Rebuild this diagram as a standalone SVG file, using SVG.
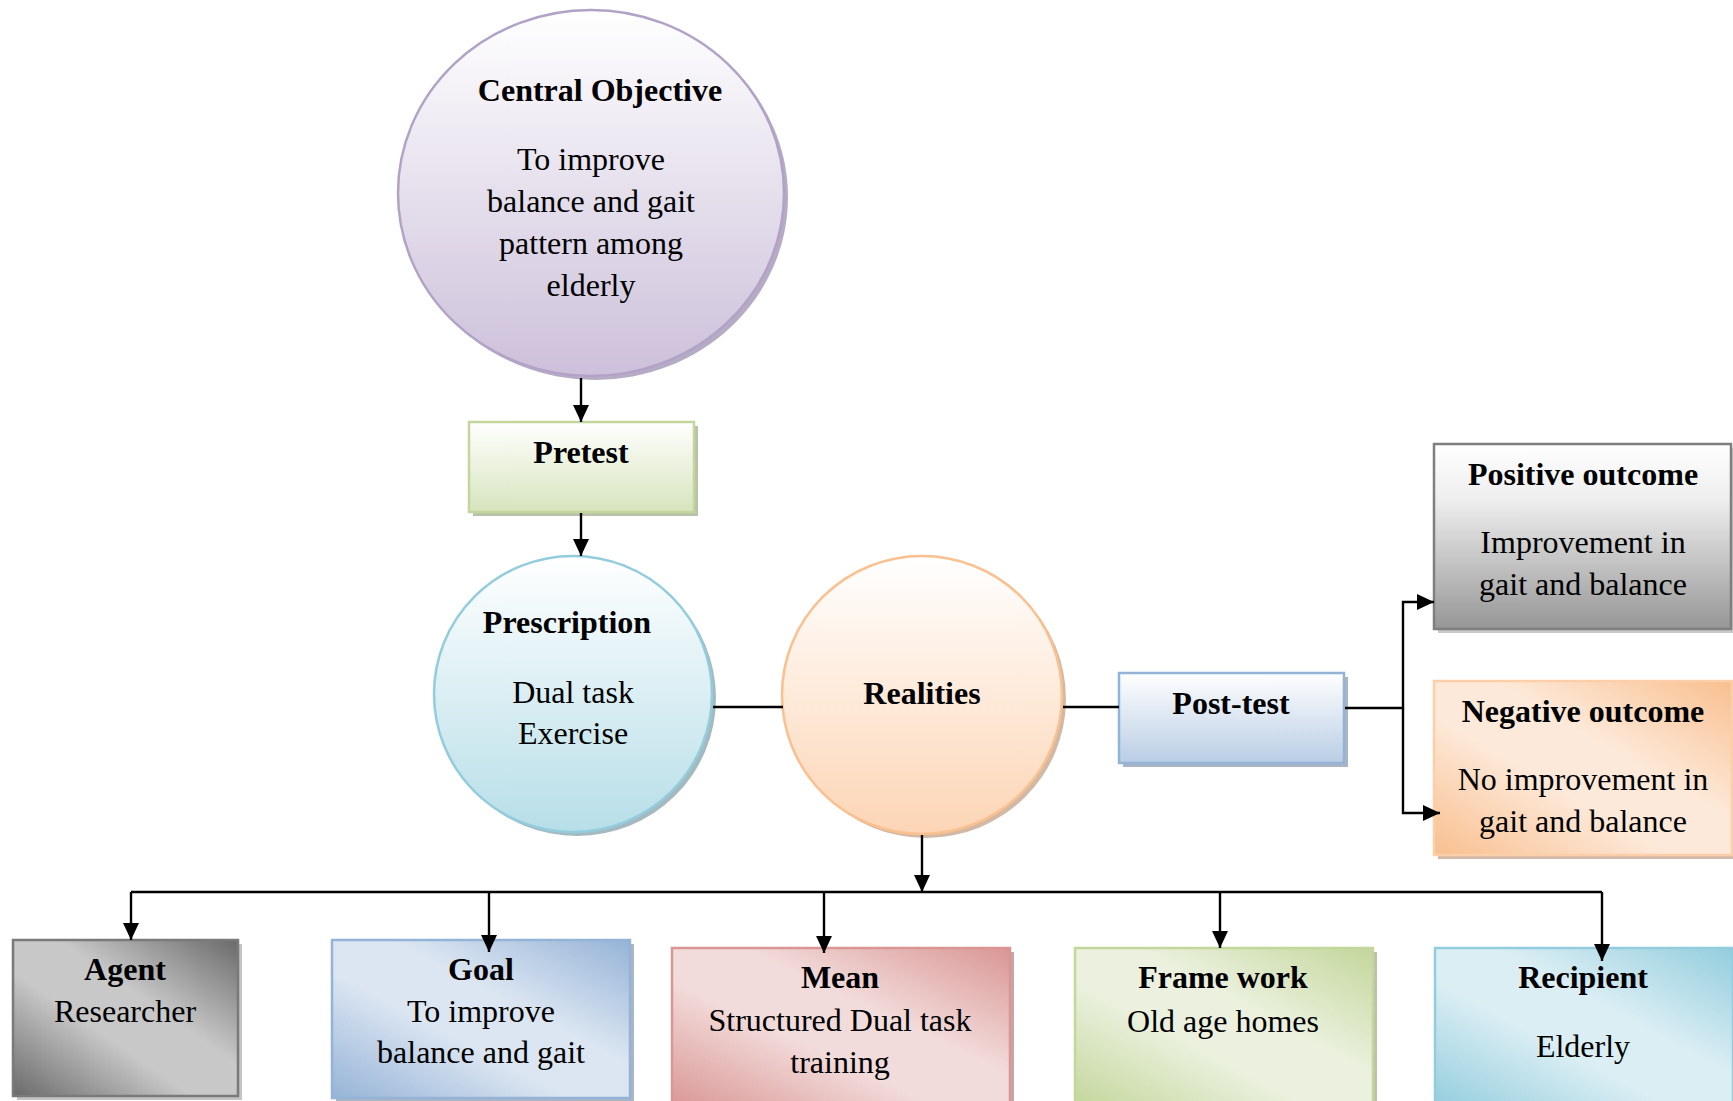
<svg xmlns="http://www.w3.org/2000/svg" width="1733" height="1101" viewBox="0 0 1733 1101">
<defs>
<style>
text{font-family:"Liberation Serif","Times New Roman",serif;font-size:32px;fill:#000;text-anchor:middle}
.b{font-weight:bold}
.conn{fill:none;stroke:#000;stroke-width:2.4}
.sh{opacity:0.75}
</style>
<marker id="ar" markerUnits="userSpaceOnUse" markerWidth="18" markerHeight="18" refX="17" refY="9" orient="auto">
<path d="M0,1 L17,9 L0,17 z" fill="#000"/>
</marker>
<linearGradient id="gPurple" x1="0" y1="0" x2="0" y2="1"><stop offset="0" stop-color="#ffffff"/><stop offset="1" stop-color="#ccc0da"/></linearGradient>
<linearGradient id="gGreenV" x1="0" y1="0" x2="0" y2="1"><stop offset="0" stop-color="#ffffff"/><stop offset="1" stop-color="#d7e4bd"/></linearGradient>
<linearGradient id="gAqua" x1="0" y1="0" x2="0" y2="1"><stop offset="0" stop-color="#ffffff"/><stop offset="1" stop-color="#b7dee8"/></linearGradient>
<linearGradient id="gOrange" x1="0" y1="0" x2="0" y2="1"><stop offset="0" stop-color="#ffffff"/><stop offset="1" stop-color="#fcd5b5"/></linearGradient>
<linearGradient id="gBlueV" x1="0" y1="0" x2="0" y2="1"><stop offset="0" stop-color="#ffffff"/><stop offset="1" stop-color="#b9cde5"/></linearGradient>
<linearGradient id="gGray" x1="0" y1="0" x2="0" y2="1"><stop offset="0" stop-color="#ffffff"/><stop offset="0.3" stop-color="#eeeeee"/><stop offset="1" stop-color="#969696"/></linearGradient>
<linearGradient id="dOrange" x1="1" y1="0" x2="0" y2="1"><stop offset="0" stop-color="#f9bf8f"/><stop offset="0.4" stop-color="#fde9d9"/><stop offset="0.6" stop-color="#fde9d9"/><stop offset="1" stop-color="#f9bf8f"/></linearGradient>
<linearGradient id="dGray" x1="1" y1="0" x2="0" y2="1"><stop offset="0" stop-color="#6a6a6a"/><stop offset="0.4" stop-color="#c8c8c8"/><stop offset="0.6" stop-color="#c8c8c8"/><stop offset="1" stop-color="#6a6a6a"/></linearGradient>
<linearGradient id="dBlue" x1="1" y1="0" x2="0" y2="1"><stop offset="0" stop-color="#95b3d7"/><stop offset="0.4" stop-color="#dce6f2"/><stop offset="0.6" stop-color="#dce6f2"/><stop offset="1" stop-color="#95b3d7"/></linearGradient>
<linearGradient id="dRed" x1="1" y1="0" x2="0" y2="1"><stop offset="0" stop-color="#d99694"/><stop offset="0.4" stop-color="#f2dcdb"/><stop offset="0.6" stop-color="#f2dcdb"/><stop offset="1" stop-color="#d99694"/></linearGradient>
<linearGradient id="dGreen" x1="1" y1="0" x2="0" y2="1"><stop offset="0" stop-color="#c3d69b"/><stop offset="0.4" stop-color="#ebf1de"/><stop offset="0.6" stop-color="#ebf1de"/><stop offset="1" stop-color="#c3d69b"/></linearGradient>
<linearGradient id="dAqua" x1="1" y1="0" x2="0" y2="1"><stop offset="0" stop-color="#93cddd"/><stop offset="0.4" stop-color="#dbeef4"/><stop offset="0.6" stop-color="#dbeef4"/><stop offset="1" stop-color="#93cddd"/></linearGradient>
</defs>
<rect width="1733" height="1101" fill="#ffffff"/>

<g id="central">
<ellipse class="sh" cx="595" cy="197" rx="193" ry="183" fill="#9d8fb0"/>
<ellipse cx="591" cy="193" rx="193" ry="183" fill="url(#gPurple)" stroke="#b3a2c7" stroke-width="2.5"/>
<text class="b" x="600" y="101">Central Objective</text>
<text x="591" y="170">To improve</text>
<text x="591" y="212">balance and gait</text>
<text x="591" y="254">pattern among</text>
<text x="591" y="296">elderly</text>
</g>

<g id="pretest">
<rect class="sh" x="473" y="426" width="225" height="90" fill="#a3ad8c"/>
<rect x="469" y="422" width="225" height="90" fill="url(#gGreenV)" stroke="#c3d69b" stroke-width="2.5"/>
<text class="b" x="581" y="463">Pretest</text>
</g>

<g id="prescription">
<ellipse class="sh" cx="577" cy="698" rx="139" ry="138" fill="#86a3ab"/>
<ellipse cx="573" cy="694" rx="139" ry="138" fill="url(#gAqua)" stroke="#93cddd" stroke-width="2.5"/>
<text class="b" x="567" y="633">Prescription</text>
<text x="573" y="703">Dual task</text>
<text x="573" y="744">Exercise</text>
</g>

<g id="realities">
<ellipse class="sh" cx="926" cy="699" rx="140" ry="139" fill="#c2a187"/>
<ellipse cx="922" cy="695" rx="140" ry="139" fill="url(#gOrange)" stroke="#fac090" stroke-width="2.5"/>
<text class="b" x="922" y="704">Realities</text>
</g>

<g id="posttest">
<rect class="sh" x="1123" y="677" width="225" height="90" fill="#8c9cb0"/>
<rect x="1119" y="673" width="225" height="90" fill="url(#gBlueV)" stroke="#95b3d7" stroke-width="2.5"/>
<text class="b" x="1231" y="714">Post-test</text>
</g>

<g id="positive">
<rect class="sh" x="1438" y="448" width="297" height="185" fill="#b5b5b5"/>
<rect x="1434" y="444" width="297" height="185" fill="url(#gGray)" stroke="#7f7f7f" stroke-width="2.5"/>
<text class="b" x="1583" y="485">Positive outcome</text>
<text x="1583" y="553">Improvement in</text>
<text x="1583" y="595">gait and balance</text>
</g>

<g id="negative">
<rect class="sh" x="1438" y="685" width="298" height="174" fill="#c4a288"/>
<rect x="1434" y="681" width="298" height="174" fill="url(#dOrange)" stroke="#fbcfa9" stroke-width="2.5"/>
<text class="b" x="1583" y="722">Negative outcome</text>
<text x="1583" y="790">No improvement in</text>
<text x="1583" y="832">gait and balance</text>
</g>

<g id="agent">
<rect class="sh" x="17" y="944" width="225" height="156" fill="#b0b0b0"/>
<rect x="13" y="940" width="225" height="156" fill="url(#dGray)" stroke="#7a7a7a" stroke-width="2.5"/>
<text class="b" x="125" y="980">Agent</text>
<text x="125" y="1022">Researcher</text>
</g>

<g id="goal">
<rect class="sh" x="336" y="944" width="298" height="160" fill="#8d9db1"/>
<rect x="332" y="940" width="298" height="158" fill="url(#dBlue)" stroke="#95b3d7" stroke-width="2.5"/>
<text class="b" x="481" y="980">Goal</text>
<text x="481" y="1022">To improve</text>
<text x="481" y="1063">balance and gait</text>
</g>

<g id="mean">
<rect class="sh" x="676" y="952" width="338" height="160" fill="#b58684"/>
<rect x="672" y="948" width="338" height="160" fill="url(#dRed)" stroke="#d99694" stroke-width="2.5"/>
<text class="b" x="840" y="988">Mean</text>
<text x="840" y="1031">Structured Dual task</text>
<text x="840" y="1073">training</text>
</g>

<g id="framework">
<rect class="sh" x="1079" y="952" width="298" height="160" fill="#a3ad8c"/>
<rect x="1075" y="948" width="298" height="160" fill="url(#dGreen)" stroke="#c3d69b" stroke-width="2.5"/>
<text class="b" x="1223" y="988">Frame work</text>
<text x="1223" y="1032">Old age homes</text>
</g>

<g id="recipient">
<rect class="sh" x="1439" y="952" width="298" height="160" fill="#86a3ab"/>
<rect x="1435" y="948" width="298" height="160" fill="url(#dAqua)" stroke="#93cddd" stroke-width="2.5"/>
<text class="b" x="1583" y="988">Recipient</text>
<text x="1583" y="1057">Elderly</text>
</g>

<g id="connectors">
<path class="conn" d="M581,378 V422" marker-end="url(#ar)"/>
<path class="conn" d="M581,513 V556" marker-end="url(#ar)"/>
<path class="conn" d="M713,707 H783"/>
<path class="conn" d="M1063,707 H1119"/>
<path class="conn" d="M1345,708 H1403 V602 H1434" marker-end="url(#ar)"/>
<path class="conn" d="M1403,708 V813 H1440" marker-end="url(#ar)"/>
<path class="conn" d="M922,835 V892" marker-end="url(#ar)"/>
<path class="conn" d="M131,892 H1602"/>
<path class="conn" d="M131,892 V940" marker-end="url(#ar)"/>
<path class="conn" d="M489,892 V952" marker-end="url(#ar)"/>
<path class="conn" d="M824,892 V953" marker-end="url(#ar)"/>
<path class="conn" d="M1220,892 V948" marker-end="url(#ar)"/>
<path class="conn" d="M1602,892 V961" marker-end="url(#ar)"/>
</g>
</svg>
